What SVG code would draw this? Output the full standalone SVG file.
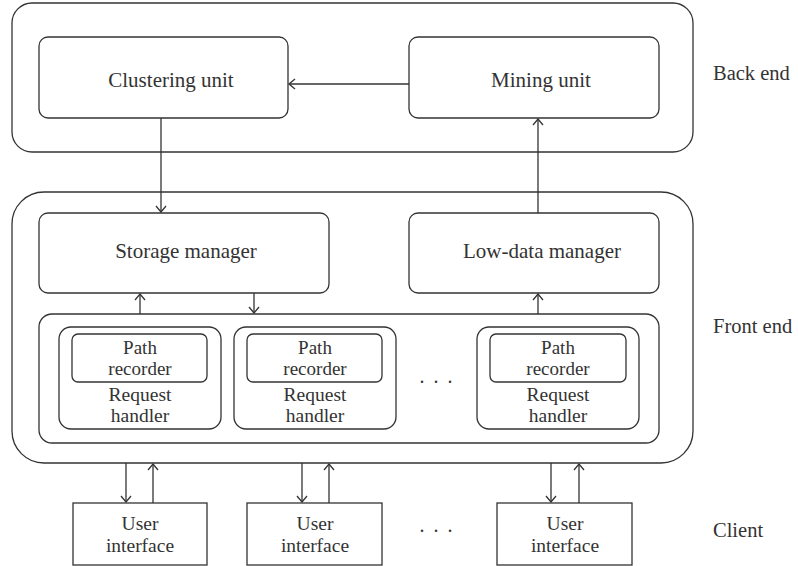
<svg xmlns="http://www.w3.org/2000/svg" width="798" height="566" viewBox="0 0 798 566">
<style>
.box{fill:none;stroke:#333;stroke-width:1.3}
.ln{fill:none;stroke:#333;stroke-width:1.3;marker-end:url(#ah)}
text{font-family:"Liberation Serif","Times New Roman",serif;fill:#333;text-anchor:middle}
.t18{font-size:21px}
.t17{font-size:19.5px}
.t19{font-size:19px}
.lab{font-size:20.5px;text-anchor:start}
.dots{font-size:20px;letter-spacing:2px}
</style>
<defs>
<marker id="ah" viewBox="0 0 12 12" refX="11" refY="6" markerWidth="12" markerHeight="12" markerUnits="userSpaceOnUse" orient="auto">
<path d="M5,1 L11,6 L5,11" fill="none" stroke="#333" stroke-width="1.3"/>
</marker>
</defs>
<rect width="798" height="566" fill="#fff"/>
<g id="backend">
<rect class="box" x="12" y="3" width="681" height="149" rx="20"/>
<text class="lab" x="713" y="80">Back end</text>
</g>
<g id="clustering">
<rect class="box" x="39" y="37" width="249" height="81" rx="9"/>
<text class="t18" x="171" y="87">Clustering unit</text>
</g>
<g id="mining">
<rect class="box" x="409" y="37" width="250" height="81" rx="9"/>
<text class="t18" x="541" y="87">Mining unit</text>
</g>
<g id="frontend">
<rect class="box" x="12" y="192" width="681" height="271" rx="32"/>
<text class="lab" x="713" y="333">Front end</text>
</g>
<g id="storage">
<rect class="box" x="39" y="213" width="290" height="80" rx="9"/>
<text class="t18" x="186" y="258">Storage manager</text>
</g>
<g id="lowdata">
<rect class="box" x="409" y="213" width="250" height="80" rx="9"/>
<text class="t18" x="542" y="258">Low-data manager</text>
</g>
<g id="handlers">
<rect class="box" x="39" y="314" width="620" height="129" rx="13"/>
<text class="dots" x="437" y="383">. . .</text>
</g>
<g id="handler1">
<rect class="box" x="59" y="327" width="162" height="102" rx="12"/>
<rect class="box" x="72" y="334" width="135" height="48" rx="6"/>
<text class="t19" x="140" y="354">Path</text>
<text class="t19" x="140" y="375">recorder</text>
<text class="t17"><tspan x="140" y="401">Request</tspan><tspan x="140" y="422">handler</tspan></text>
</g>
<g id="handler2">
<rect class="box" x="234" y="327" width="162" height="102" rx="12"/>
<rect class="box" x="247" y="334" width="135" height="48" rx="6"/>
<text class="t19" x="315" y="354">Path</text>
<text class="t19" x="315" y="375">recorder</text>
<text class="t17"><tspan x="315" y="401">Request</tspan><tspan x="315" y="422">handler</tspan></text>
</g>
<g id="handler3">
<rect class="box" x="477" y="327" width="162" height="102" rx="12"/>
<rect class="box" x="490" y="334" width="136" height="48" rx="6"/>
<text class="t19" x="558" y="354">Path</text>
<text class="t19" x="558" y="375">recorder</text>
<text class="t17"><tspan x="558" y="401">Request</tspan><tspan x="558" y="422">handler</tspan></text>
</g>
<g id="client">
<text class="lab" x="713" y="537">Client</text>
<text class="dots" x="437" y="532">. . .</text>
</g>
<g id="ui1">
<rect class="box" x="73" y="503" width="134" height="62"/>
<text class="t17"><tspan x="140" y="530">User</tspan><tspan x="140" y="552">interface</tspan></text>
</g>
<g id="ui2">
<rect class="box" x="247" y="503" width="135" height="62"/>
<text class="t17"><tspan x="315" y="530">User</tspan><tspan x="315" y="552">interface</tspan></text>
</g>
<g id="ui3">
<rect class="box" x="497" y="503" width="135" height="62"/>
<text class="t17"><tspan x="565" y="530">User</tspan><tspan x="565" y="552">interface</tspan></text>
</g>
<g id="connectors">
<line class="ln" x1="409" y1="84" x2="289" y2="84"/>
<line class="ln" x1="161" y1="118" x2="161" y2="212"/>
<line class="ln" x1="538" y1="213" x2="538" y2="119"/>
<line class="ln" x1="140" y1="314" x2="140" y2="294"/>
<line class="ln" x1="254" y1="293" x2="254" y2="313"/>
<line class="ln" x1="538" y1="314" x2="538" y2="294"/>
<line class="ln" x1="126" y1="463" x2="126" y2="502"/>
<line class="ln" x1="153" y1="503" x2="153" y2="464"/>
<line class="ln" x1="302" y1="463" x2="302" y2="502"/>
<line class="ln" x1="329" y1="503" x2="329" y2="464"/>
<line class="ln" x1="551" y1="463" x2="551" y2="502"/>
<line class="ln" x1="579" y1="503" x2="579" y2="464"/>
</g>
</svg>
